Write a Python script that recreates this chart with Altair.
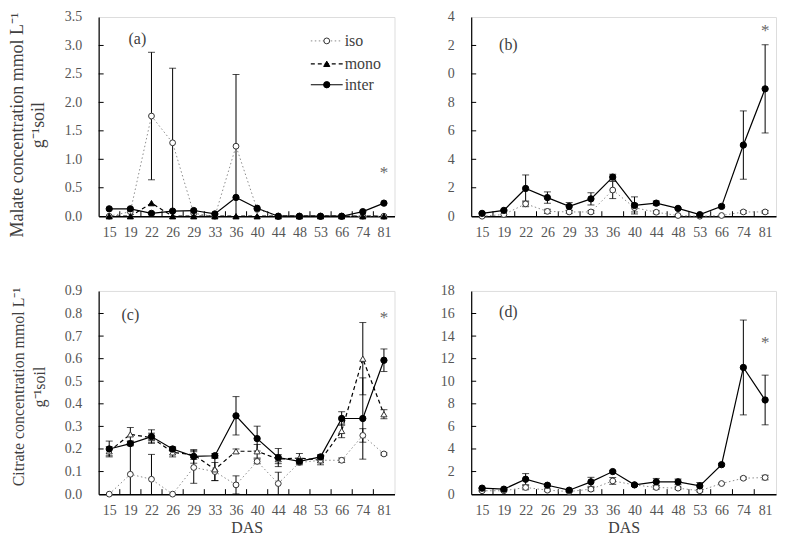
import altair as alt
import pandas as pd

DAS = ["15", "19", "22", "26", "29", "33", "36", "40", "44", "48", "53", "66", "74", "81"]

# (a) Malate, unit 1
a_iso = [0, 0.08, 1.76, 1.29, 0.05, 0, 1.23, 0.12, 0, 0, 0, 0, 0, 0]
a_iso_err = [0, 0, 1.12, 1.31, 0, 0, 1.26, 0, 0, 0, 0, 0, 0, 0]
a_mono = [0, 0, 0.23, 0, 0, 0, 0, 0, 0, 0, 0, 0, 0, 0]
a_mono_err = [0] * 14
a_inter = [0.13, 0.13, 0.05, 0.09, 0.10, 0.04, 0.33, 0.14, 0, 0, 0, 0, 0.08, 0.23]
a_inter_err = [0] * 14

# (b) Malate, unit 2
b_iso = [0.0, 0.12, 0.87, 0.34, 0.30, 0.30, 1.84, 0.60, 0.28, 0.05, 0.0, 0.05, 0.30, 0.30]
b_iso_err = [0, 0, 0.2, 0.15, 0.1, 0.1, 0.6, 0.3, 0.1, 0, 0, 0, 0.1, 0.1]
b_inter = [0.20, 0.41, 1.95, 1.31, 0.69, 1.22, 2.75, 0.76, 0.92, 0.55, 0.11, 0.69, 5.0, 8.95]
b_inter_err = [0.05, 0.05, 0.95, 0.4, 0.27, 0.43, 0.2, 0.6, 0.15, 0.05, 0.05, 0.1, 2.4, 3.1]

# (c) Citrate, unit 1
c_iso = [0, 0.088, 0.066, 0, 0.118, 0.10, 0.041, 0.145, 0.047, 0.14, 0.15, 0.15, 0.26, 0.178]
c_iso_err = [0, 0.13, 0.11, 0, 0.07, 0.04, 0.04, 0.01, 0.05, 0.01, 0.01, 0.01, 0.03, 0.005]
c_mono = [0.19, 0.265, 0.25, 0.185, 0.174, 0.11, 0.19, 0.19, 0.155, 0.16, 0.15, 0.28, 0.60, 0.354]
c_mono_err = [0.02, 0.03, 0.02, 0.02, 0.02, 0.05, 0.01, 0.03, 0.02, 0.02, 0.02, 0.03, 0.16, 0.02]
c_inter = [0.20, 0.224, 0.255, 0.20, 0.167, 0.17, 0.347, 0.246, 0.162, 0.145, 0.165, 0.335, 0.335, 0.593]
c_inter_err = [0.035, 0.01, 0.03, 0.01, 0.03, 0.01, 0.085, 0.055, 0.04, 0.01, 0.01, 0.03, 0.18, 0.05]

# (d) Citrate, unit 2
d_iso = [0.30, 0.30, 0.59, 0.35, 0.23, 0.44, 1.17, 0.82, 0.59, 0.53, 0.30, 0.94, 1.41, 1.47]
d_iso_err = [0.05, 0.05, 0.2, 0.1, 0.05, 0.15, 0.3, 0.1, 0.15, 0.1, 0.1, 0.05, 0.1, 0.2]
d_inter = [0.53, 0.44, 1.32, 0.79, 0.35, 1.09, 2.0, 0.82, 1.09, 1.09, 0.73, 2.61, 11.22, 8.34]
d_inter_err = [0.05, 0.05, 0.5, 0.1, 0.05, 0.4, 0.1, 0.1, 0.3, 0.25, 0.3, 0.1, 4.2, 2.2]

STAR = {"a": 0.76, "b": 13.0, "c": 0.78, "d": 13.4}

FONT = "Liberation Serif"
LABEL_COLOR = "#555555"
TEXT_COLOR = "#404040"


def frame(vals, errs):
    rows = []
    for i, (v, e) in enumerate(zip(vals, errs)):
        rows.append(dict(idx=i, v=v, lo=max(0.0, v - e), hi=v + e, err=e))
    return pd.DataFrame(rows)


STYLES = {
    "iso": dict(line=dict(color="#8c8c8c", strokeDash=[1.5, 2.5], strokeWidth=1),
                point=dict(shape="circle", filled=True, fill="white", stroke="#333333",
                           strokeWidth=1, size=34, opacity=1)),
    "mono": dict(line=dict(color="black", strokeDash=[4, 3], strokeWidth=1.2),
                 point=dict(shape="triangle-up", filled=True, fill="black", stroke="black",
                            strokeWidth=1, size=38, opacity=1)),
    "mono_open": dict(line=dict(color="black", strokeDash=[4, 3], strokeWidth=1.2),
                      point=dict(shape="triangle-up", filled=True, fill="white", stroke="#333333",
                                 strokeWidth=1, size=38, opacity=1)),
    "inter": dict(line=dict(color="black", strokeWidth=1.2),
                  point=dict(shape="circle", filled=True, fill="black", stroke="black",
                             strokeWidth=1, size=40, opacity=1)),
}

label_expr_das = "[" + ",".join("'" + d + "'" for d in DAS) + "][datum.value]"


def make_panel(series, ymax, ystep, yfmt, width, height, plabel, plabel_pos, star,
               ytitle=None, title_size=17, title_y=None, show_das=False, ylabel_expr=None,
               legend=False):
    xscale = alt.Scale(domain=[-0.5, 13.5], nice=False, zero=False)
    yscale = alt.Scale(domain=[0, ymax], nice=False)
    nticks = int(round(ymax / ystep))
    yvals = [round(k * ystep, 4) for k in range(nticks + 1)]

    xaxis = alt.Axis(values=list(range(14)), labelExpr=label_expr_das, ticks=False, grid=False,
                     labelOverlap=False, labelFlush=False,
                     domainColor="black", domainWidth=1.5, labelFont=FONT, labelFontSize=14,
                     labelColor=LABEL_COLOR, labelPadding=9, labelAngle=0,
                     title="DAS" if show_das else None, titleFont=FONT, titleFontSize=16,
                     titleFontWeight="normal", titleColor=TEXT_COLOR, titlePadding=3)
    yaxis_kw = dict(values=yvals, format=yfmt, ticks=False, grid=False, domainColor="black",
                    labelOverlap=False, labelFlush=False,
                    domainWidth=1.2, labelFont=FONT, labelFontSize=14, labelColor=LABEL_COLOR,
                    labelPadding=17, title=ytitle if ytitle else None, titleFont=FONT,
                    titleFontSize=title_size, titleFontWeight="normal", titleColor=TEXT_COLOR,
                    titlePadding=17, titleLineHeight=21)
    if title_y is not None:
        yaxis_kw["titleY"] = title_y
    if ylabel_expr:
        yaxis_kw["labelExpr"] = ylabel_expr
    yaxis = alt.Axis(**yaxis_kw)

    def X(f):
        return alt.X(f, scale=xscale, axis=xaxis)

    def Y(f):
        return alt.Y(f, scale=yscale, axis=yaxis)

    layers = []
    # inward y ticks
    yt = pd.DataFrame({"t": yvals[1:-1]})
    layers.append(alt.Chart(yt).mark_rule(color="black", strokeWidth=1).encode(
        y=Y("t:Q"), x=alt.value(0), x2=alt.value(5)))
    # inward x ticks at category boundaries
    xt = pd.DataFrame({"b": [k + 0.5 for k in range(13)]})
    layers.append(alt.Chart(xt).mark_rule(color="black", strokeWidth=1).encode(
        x=X("b:Q"), y=alt.value(height), y2=alt.value(height - 5)))

    for name, vals, errs in series:
        df = frame(vals, errs)
        eb = df[df["err"] > 0]
        if len(eb):
            layers.append(alt.Chart(eb).mark_rule(color="black", strokeWidth=1).encode(
                x=X("idx:Q"), y=Y("lo:Q"), y2="hi:Q"))
            layers.append(alt.Chart(eb).mark_tick(color="black", orient="horizontal", size=7,
                                                  thickness=1).encode(
                x=X("idx:Q"), y=Y("hi:Q")))
            ebl = eb[eb["lo"] > 0]
            if len(ebl):
                layers.append(alt.Chart(ebl).mark_tick(color="black", orient="horizontal", size=7,
                                                       thickness=1).encode(
                    x=X("idx:Q"), y=Y("lo:Q")))
    for name, vals, errs in series:
        df = frame(vals, errs)
        st = STYLES[name]
        layers.append(alt.Chart(df).mark_line(**st["line"]).encode(x=X("idx:Q"), y=Y("v:Q")))
    for name, vals, errs in series:
        df = frame(vals, errs)
        st = STYLES[name]
        layers.append(alt.Chart(df).mark_point(**st["point"]).encode(x=X("idx:Q"), y=Y("v:Q")))

    # asterisk
    sdf = pd.DataFrame({"idx": [13], "v": [star], "t": ["*"]})
    layers.append(alt.Chart(sdf).mark_text(font=FONT, fontSize=17, color="#666666").encode(
        x=X("idx:Q"), y=Y("v:Q"), text="t:N"))

    # panel label
    pdf = pd.DataFrame({"t": [plabel]})
    layers.append(alt.Chart(pdf).mark_text(font=FONT, fontSize=16, color=TEXT_COLOR,
                                           align="left").encode(
        x=alt.value(plabel_pos[0]), y=alt.value(plabel_pos[1]), text="t:N"))

    if legend:
        entries = [("iso", 24), ("mono", 47), ("inter", 68)]
        for name, py in entries:
            st = STYLES[name]
            ldf = pd.DataFrame({"t": [name]})
            layers.append(alt.Chart(ldf).mark_rule(**st["line"]).encode(
                x=alt.value(213), x2=alt.value(245), y=alt.value(py)))
            layers.append(alt.Chart(ldf).mark_point(**st["point"]).encode(
                x=alt.value(229), y=alt.value(py)))
            layers.append(alt.Chart(ldf).mark_text(font=FONT, fontSize=16, color=TEXT_COLOR,
                                                   align="left").encode(
                x=alt.value(247), y=alt.value(py), text="t:N"))

    return alt.layer(*layers).properties(width=width, height=height)


pa = make_panel([("iso", a_iso, a_iso_err), ("mono", a_mono, a_mono_err),
                 ("inter", a_inter, a_inter_err)],
                3.5, 0.5, ".1f", 297, 200, "(a)", (30, 22), STAR["a"],
                ytitle=["Malate concentration mmol L\u207b\u00b9", "g\u207b\u00b9soil"],
                title_size=18, title_y=108, legend=True)
pb = make_panel([("iso", b_iso, b_iso_err), ("inter", b_inter, b_inter_err)],
                14, 2, "d", 306, 200, "(b)", (28, 28), STAR["b"],
                ylabel_expr="substring(datum.label, length(datum.label) - 1)")
pc = make_panel([("iso", c_iso, c_iso_err), ("mono_open", c_mono, c_mono_err),
                 ("inter", c_inter, c_inter_err)],
                0.9, 0.1, ".1f", 297, 204, "(c)", (23, 24), STAR["c"],
                ytitle=["Citrate concentration mmol L\u207b\u00b9", "g\u207b\u00b9soil"],
                title_size=16, title_y=96, show_das=True)
pd_ = make_panel([("iso", d_iso, d_iso_err), ("inter", d_inter, d_inter_err)],
                 18, 2, "d", 306, 204, "(d)", (28, 21), STAR["d"], show_das=True)

chart = alt.concat(pa, pb, pc, pd_, columns=2, spacing={"row": 75, "column": 77},
                   bounds="flush", align="each").properties(
    padding={"left": 0, "top": 0, "right": 2, "bottom": 0}
).configure_view(stroke="black", strokeWidth=1).configure(background="white")

chart.save("out.html", embed_options={"renderer": "svg", "actions": False})
